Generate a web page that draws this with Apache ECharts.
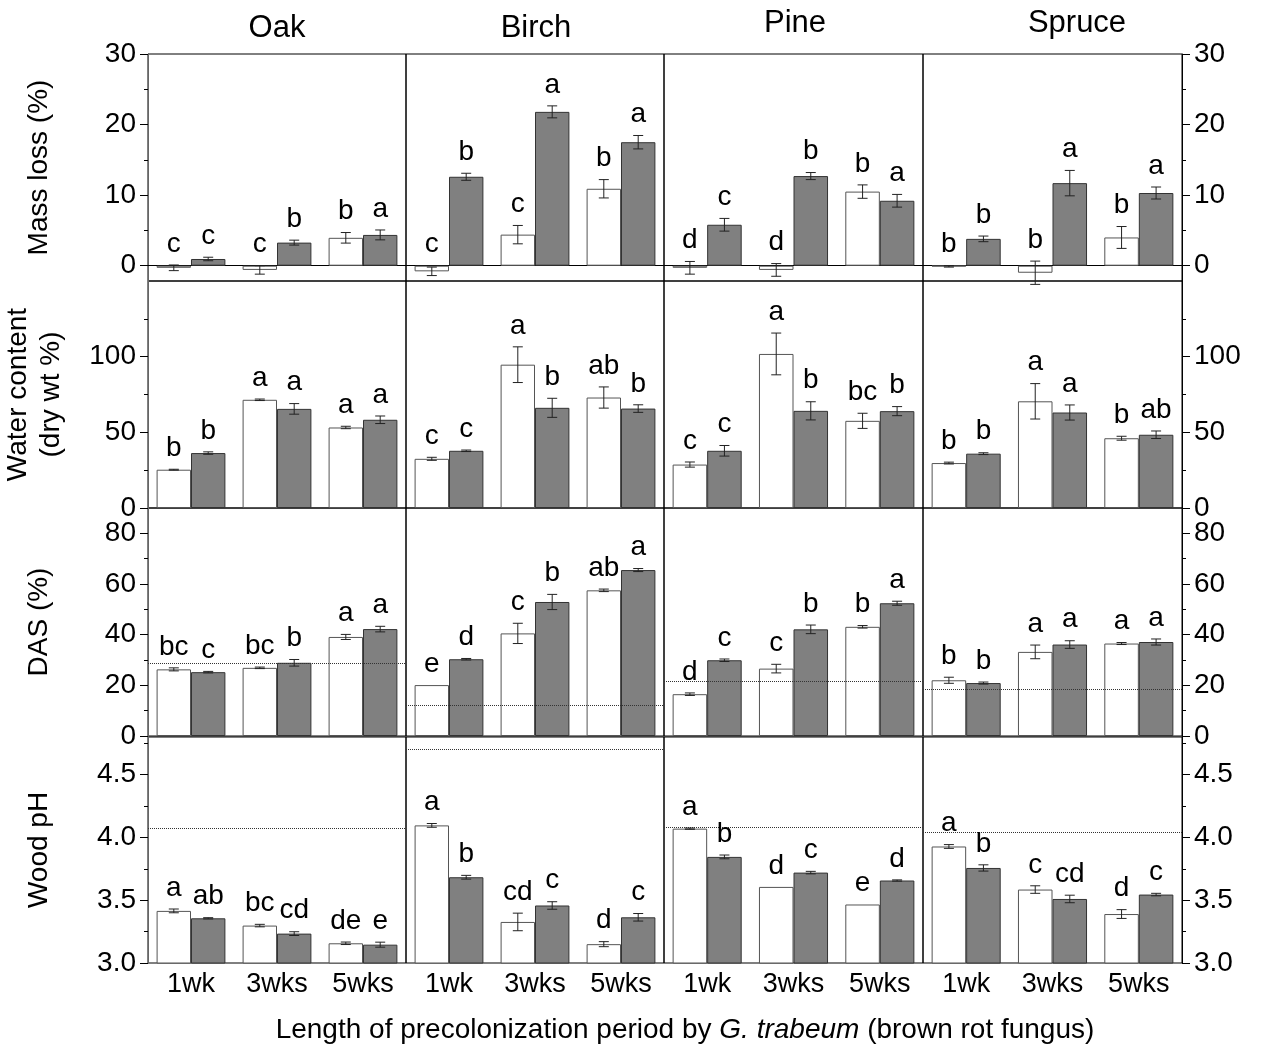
<!DOCTYPE html>
<html><head><meta charset="utf-8">
<script src="https://cdn.jsdelivr.net/npm/echarts@6/dist/echarts.min.js"></script>
<style>html,body{margin:0;padding:0;background:#fff}#c{width:1261px;height:1046px}</style>
</head><body><div id="c"></div>
<script>
const species = ['Oak', 'Birch', 'Pine', 'Spruce'];
const periods = ['1wk', '3wks', '5wks'];
const rowTitles = ['Mass loss (%)', 'Water content\n(dry wt %)', 'DAS (%)', 'Wood pH'];

// Mass loss (%)
const massWhite = [[-0.3, -0.6, 3.95], [-0.8, 4.4, 10.9], [-0.3, -0.6, 10.5], [-0.1, -1.0, 4.0]];
const massWhiteErr = [[0.4, 0.6, 0.75], [0.6, 1.3, 1.3], [0.9, 0.9, 0.95], [0.1, 1.65, 1.55]];
const massGray = [[0.95, 3.27, 4.36], [12.6, 21.8, 17.5], [5.8, 12.7, 9.2], [3.8, 11.7, 10.3]];
const massGrayErr = [[0.25, 0.35, 0.7], [0.5, 0.85, 0.95], [0.9, 0.5, 0.9], [0.4, 1.8, 0.85]];
const massWhiteLetters = [['c', 'c', 'b'], ['c', 'c', 'b'], ['d', 'd', 'b'], ['b', 'b', 'b']];
const massGrayLetters = [['c', 'b', 'a'], ['b', 'a', 'a'], ['c', 'b', 'a'], ['b', 'a', 'a']];

// Water content (dry wt %)
const waterWhite = [[25.3, 71.5, 53.2], [32.5, 94.7, 73], [28.7, 101.8, 57.6], [29.7, 70.5, 46.1]];
const waterWhiteErr = [[0.3, 0.5, 0.8], [1, 11.8, 7], [1.7, 13.8, 5], [0.6, 11.7, 1.3]];
const waterGray = [[36.3, 65.5, 58.3], [37.8, 66.2, 65.7], [37.8, 64.2, 64], [35.9, 63.1, 48.4]];
const waterGrayErr = [[0.8, 3.5, 2.5], [0.5, 6.3, 2.5], [3.5, 6, 3], [0.6, 5, 2.5]];
const waterWhiteLetters = [['b', 'a', 'a'], ['c', 'a', 'ab'], ['c', 'a', 'bc'], ['b', 'a', 'b']];
const waterGrayLetters = [['b', 'a', 'a'], ['c', 'b', 'b'], ['c', 'b', 'b'], ['b', 'a', 'ab']];

// DAS (%)
const dasWhite = [[26.3, 26.9, 39.1], [20.1, 40.5, 57.5], [16.5, 26.6, 43.1], [22, 33.2, 36.5]];
const dasWhiteErr = [[0.6, 0.3, 1.0], [0, 4, 0.5], [0.5, 1.7, 0.5], [1.2, 2.7, 0.4]];
const dasGray = [[25.2, 28.9, 42.2], [30.3, 52.9, 65.5], [29.9, 42.1, 52.4], [20.9, 36.1, 37.1]];
const dasGrayErr = [[0.3, 1.3, 1.1], [0.3, 3, 0.6], [0.5, 1.7, 0.8], [0.4, 1.5, 1.2]];
const dasWhiteLetters = [['bc', 'bc', 'a'], ['e', 'c', 'ab'], ['d', 'c', 'b'], ['b', 'a', 'a']];
const dasGrayLetters = [['c', 'b', 'a'], ['d', 'b', 'a'], ['c', 'b', 'a'], ['b', 'a', 'a']];
const dasControl = [28.8, 12.1, 21.6, 18.5];

// Wood pH
const phWhite = [[3.415, 3.298, 3.157], [4.096, 3.327, 3.15], [4.07, 3.606, 3.466], [3.928, 3.585, 3.39]];
const phWhiteErr = [[0.015, 0.01, 0.01], [0.015, 0.07, 0.02], [0.005, 0, 0], [0.015, 0.03, 0.035]];
const phGray = [[3.356, 3.234, 3.146], [3.683, 3.458, 3.364], [3.845, 3.72, 3.657], [3.757, 3.51, 3.545]];
const phGrayErr = [[0.005, 0.015, 0.02], [0.015, 0.03, 0.03], [0.015, 0.01, 0.005], [0.025, 0.03, 0.01]];
const phWhiteLetters = [['a', 'bc', 'de'], ['a', 'cd', 'd'], ['a', 'd', 'e'], ['a', 'c', 'd']];
const phGrayLetters = [['ab', 'cd', 'e'], ['b', 'c', 'c'], ['b', 'c', 'd'], ['b', 'cd', 'c']];
const phControl = [4.074, 4.70, 4.08, 4.04];

// Axis ticks
const massTicks = [0, 10, 20, 30], massMinor = [5, 15, 25];
const waterTicks = [0, 50, 100], waterMinor = [25, 75, 125];
const dasTicks = [0, 20, 40, 60, 80], dasMinor = [10, 30, 50, 70];
const phTicks = [3.0, 3.5, 4.0, 4.5], phMinor = [3.25, 3.75, 4.25, 4.75];

const FONT = '"Liberation Sans", Arial, Helvetica, sans-serif';

const rows = [
  {min: -2.17, max: 30, ticks: massTicks, minor: massMinor, fmt: v => String(v),
   w: massWhite, we: massWhiteErr, g: massGray, ge: massGrayErr, wl: massWhiteLetters, gl: massGrayLetters, ctrl: null},
  {min: 0, max: 150, ticks: waterTicks, minor: waterMinor, fmt: v => String(v),
   w: waterWhite, we: waterWhiteErr, g: waterGray, ge: waterGrayErr, wl: waterWhiteLetters, gl: waterGrayLetters, ctrl: null},
  {min: 0, max: 90, ticks: dasTicks, minor: dasMinor, fmt: v => String(v),
   w: dasWhite, we: dasWhiteErr, g: dasGray, ge: dasGrayErr, wl: dasWhiteLetters, gl: dasGrayLetters, ctrl: dasControl},
  {min: 3.0, max: 4.8, ticks: phTicks, minor: phMinor, fmt: v => Number(v).toFixed(1),
   w: phWhite, we: phWhiteErr, g: phGray, ge: phGrayErr, wl: phWhiteLetters, gl: phGrayLetters, ctrl: phControl}
];

const colLeft = [148, 406, 664, 923];
const colWidth = [258, 258, 259, 259];
const rowTop = [54, 281, 508, 737];
const rowHeight = [227, 227, 228, 226];

function errRender(side) {
  return function (params, api) {
    const cat = api.value(0), m = api.value(1), e = api.value(2);
    if (!(e > 0)) return null;
    const bw = api.size([1, 0])[0];
    const x = api.coord([cat, m])[0] + side * bw * 0.2;
    const yt = api.coord([cat, m + e])[1];
    const yb = api.coord([cat, m - e])[1];
    const hw = 5;
    const st = {stroke: '#222', lineWidth: 1};
    return {type: 'group', children: [
      {type: 'line', shape: {x1: x, y1: yt, x2: x, y2: yb}, style: st},
      {type: 'line', shape: {x1: x - hw, y1: yt, x2: x + hw, y2: yt}, style: st},
      {type: 'line', shape: {x1: x - hw, y1: yb, x2: x + hw, y2: yb}, style: st}
    ]};
  };
}
function letterRender(side, letters) {
  return function (params, api) {
    const cat = api.value(0), m = api.value(1), e = api.value(2);
    const bw = api.size([1, 0])[0];
    const x = api.coord([cat, m])[0] + side * bw * 0.2;
    const y = api.coord([cat, Math.max(m + e, 0)])[1] - 7;
    return {type: 'text', x: x, y: y, style: {
      text: letters[params.dataIndex], fontSize: 28, fontFamily: FONT, fill: '#000',
      align: 'center', verticalAlign: 'bottom', textAlign: 'center', textVerticalAlign: 'bottom'}};
  };
}

const grids = [], xAxes = [], yAxes = [], series = [];
for (let r = 0; r < 4; r++) {
  const R = rows[r];
  for (let c = 0; c < 4; c++) {
    const gi = grids.length;
    grids.push({left: colLeft[c], top: rowTop[r], width: colWidth[c], height: rowHeight[r],
      show: true, borderColor: '#000', borderWidth: 1, backgroundColor: 'transparent',
      containLabel: false, outerBoundsMode: 'none'});
    xAxes.push({type: 'category', gridIndex: gi, data: periods, boundaryGap: true,
      axisTick: {show: false},
      axisLine: {show: r === 0, onZero: true, lineStyle: {color: '#000', width: 1}},
      axisLabel: {show: r === 3, fontSize: 27, fontFamily: FONT, color: '#000', margin: 8},
      splitLine: {show: false}});
    const edge = c === 0 || c === 3;
    const yi = yAxes.length;
    const main = {type: 'value', gridIndex: gi, min: R.min, max: R.max, show: edge,
      position: c === 3 ? 'right' : 'left',
      axisLine: {show: edge, lineStyle: {color: c === 0 ? '#666' : '#000', width: 1}},
      axisTick: {show: edge, inside: false, length: 8, customValues: R.ticks, lineStyle: {color: '#000'}},
      axisLabel: {show: edge, customValues: R.ticks, formatter: R.fmt, fontSize: 28, fontFamily: FONT, color: '#000', margin: 12},
      splitLine: {show: false}};
    if (c === 0) {
      main.name = rowTitles[r];
      main.nameLocation = 'middle';
      main.nameRotate = 90;
      main.nameGap = r === 1 ? 80 : 92;
      main.nameTextStyle = {fontSize: 28, fontFamily: FONT, color: '#000', lineHeight: 33};
    }
    yAxes.push(main);
    if (edge) {
      yAxes.push({type: 'value', gridIndex: gi, min: R.min, max: R.max,
        position: c === 3 ? 'right' : 'left',
        axisLine: {show: false},
        axisTick: {show: true, inside: false, length: 4, customValues: R.minor, lineStyle: {color: '#000'}},
        axisLabel: {show: false}, splitLine: {show: false}});
    }
    const wData = R.w[c].map((v, i) => [i, v, R.we[c][i]]);
    const gData = R.g[c].map((v, i) => [i, v, R.ge[c][i]]);
    series.push({type: 'bar', xAxisIndex: gi, yAxisIndex: yi, data: R.w[c], barWidth: '40%', barGap: '0%',
      itemStyle: {color: '#ffffff', borderColor: '#555', borderWidth: 1}, silent: true});
    const gs = {type: 'bar', xAxisIndex: gi, yAxisIndex: yi, data: R.g[c], barWidth: '40%', barGap: '0%',
      itemStyle: {color: '#808080', borderColor: '#333', borderWidth: 1}, silent: true};
    if (R.ctrl) {
      gs.markLine = {silent: true, symbol: ['none', 'none'], label: {show: false},
        lineStyle: {type: 'dotted', color: '#333', width: 1},
        data: [{yAxis: R.ctrl[c]}]};
    }
    series.push(gs);
    series.push({type: 'custom', xAxisIndex: gi, yAxisIndex: yi, data: wData, encode: {x: 0, y: 1},
      renderItem: errRender(-1), silent: true, z: 5});
    series.push({type: 'custom', xAxisIndex: gi, yAxisIndex: yi, data: gData, encode: {x: 0, y: 1},
      renderItem: errRender(1), silent: true, z: 5});
    series.push({type: 'custom', xAxisIndex: gi, yAxisIndex: yi, data: wData, encode: {x: 0, y: 1},
      renderItem: letterRender(-1, R.wl[c]), silent: true, z: 6, clip: false});
    series.push({type: 'custom', xAxisIndex: gi, yAxisIndex: yi, data: gData, encode: {x: 0, y: 1},
      renderItem: letterRender(1, R.gl[c]), silent: true, z: 6, clip: false});
  }
}

const titlePos = [[272, 8], [531, 8], [790, 3], [1072, 3]];
const titles = species.map((s, i) => ({text: s, left: titlePos[i][0], top: titlePos[i][1], textAlign: 'center',
  textStyle: {fontSize: 31, fontWeight: 'normal', fontFamily: FONT, color: '#000'}}));
titles.push({text: '{n|Length of precolonization period by }{i|G. trabeum}{n| (brown rot fungus)}',
  left: 680, top: 1011, textAlign: 'center',
  textStyle: {fontWeight: 'normal', rich: {
    n: {fontSize: 28, fontWeight: 'normal', fontFamily: FONT, color: '#000'},
    i: {fontSize: 28, fontWeight: 'normal', fontFamily: FONT, color: '#000', fontStyle: 'italic'}}}});

const chart = echarts.init(document.getElementById('c'), null, {renderer: 'canvas'});
chart.setOption({
  animation: false,
  backgroundColor: '#fff',
  title: titles,
  grid: grids,
  xAxis: xAxes,
  yAxis: yAxes,
  series: series
});
</script></body></html>
